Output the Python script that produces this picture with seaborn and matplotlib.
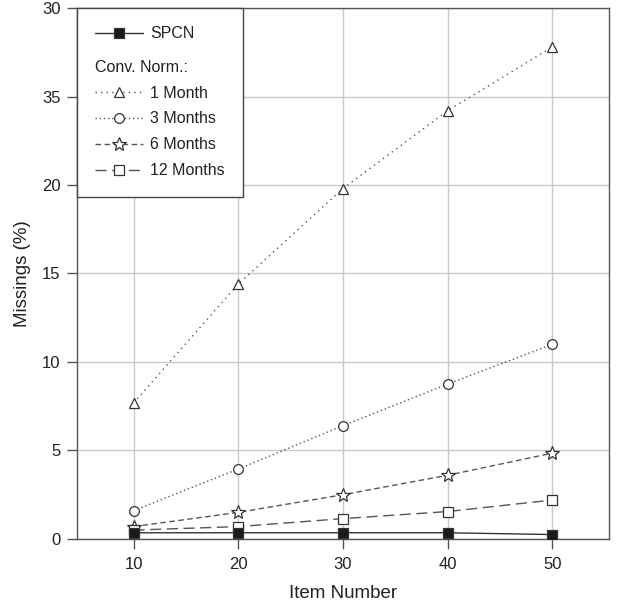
import matplotlib
matplotlib.use("Agg")
import matplotlib.pyplot as plt
from matplotlib.lines import Line2D
import seaborn as sns
import pandas as pd

item_number = [10, 20, 30, 40, 50]
spcn = [0.35, 0.35, 0.35, 0.35, 0.25]
month_1 = [7.68, 14.4, 19.8, 24.2, 27.8]
months_3 = [1.6, 3.95, 6.4, 8.75, 11.0]
months_6 = [0.7, 1.5, 2.5, 3.6, 4.85]
months_12 = [0.5, 0.7, 1.15, 1.55, 2.2]
y_ticks = [0, 5, 10, 15, 20, 25, 30]
y_tick_labels = ["0", "5", "10", "15", "20", "35", "30"]
x_ticks = [10, 20, 30, 40, 50]

sns.set_theme(style="white")
plt.rcParams['font.family'] = ['Liberation Sans', 'DejaVu Sans']

fig = plt.figure(figsize=(6.31, 6.02), dpi=100)
ax = fig.add_axes([0.122, 0.1047, 0.843, 0.882])

gray = "#555555"
series = [
    ("1 Month", month_1, "^", (0, (1, 3)), "white", gray, 1.0),
    ("3 Months", months_3, "o", (0, (1, 2)), "white", gray, 1.0),
    ("6 Months", months_6, "*", (0, (4, 2.5)), "white", gray, 1.0),
    ("12 Months", months_12, "s", (0, (8, 4)), "white", gray, 1.0),
    ("SPCN", spcn, "s", "-", "#1a1a1a", "#333333", 1.0),
]
msizes = {"^": 7, "o": 7, "*": 10, "s": 7}
handles = {}
for name, vals, mk, ls, mfc, col, lw in series:
    df = pd.DataFrame({"x": item_number, "y": vals})
    ms = msizes[mk]
    sns.lineplot(data=df, x="x", y="y", ax=ax, color=col, linestyle=ls, lw=lw,
                 marker=mk, markersize=ms, markerfacecolor=mfc,
                 markeredgecolor="#333333", markeredgewidth=0.9, zorder=3)
    handles[name] = Line2D([], [], color=col, linestyle=ls, lw=lw, marker=mk,
                           markersize=ms, markerfacecolor=mfc,
                           markeredgecolor="#333333", markeredgewidth=0.9)

ax.set_xlim(4.6, 55.4)
ax.set_ylim(0, 30)
ax.set_xticks(x_ticks)
ax.set_xticklabels([str(v) for v in x_ticks])
ax.set_yticks(y_ticks)
ax.set_yticklabels(y_tick_labels)
ax.grid(True, color="#c8c8c8", lw=1.0, zorder=0)
ax.set_axisbelow(True)
for s in ax.spines.values():
    s.set_color("#555555")
    s.set_linewidth(1.0)
ax.tick_params(axis="both", direction="out", length=7, width=1, color="#555555",
               labelsize=12, labelcolor="#222222", bottom=True, left=True, pad=5)
ax.tick_params(axis="x", pad=6)
ax.set_xlabel("Item Number", fontsize=13.5, color="#222222", labelpad=9)
ax.set_ylabel("Missings (%)", fontsize=13.5, color="#222222", labelpad=8)

blank = Line2D([], [], color="none")
leg_handles = [handles["SPCN"], blank, handles["1 Month"], handles["3 Months"],
               handles["6 Months"], handles["12 Months"]]
leg_labels = ["SPCN", "Conv. Norm.:", "1 Month", "3 Months", "6 Months", "12 Months"]
leg = ax.legend(leg_handles, leg_labels, loc="upper left", bbox_to_anchor=(0, 1),
                borderaxespad=0, fontsize=11.5, handlelength=3.0, handletextpad=0.45,
                labelspacing=0.68, frameon=True, fancybox=False, borderpad=1.15,
                labelcolor="#222222")
leg.get_frame().set_edgecolor("#444444")
leg.get_frame().set_linewidth(1.0)
leg.get_frame().set_alpha(1)
# make the "Conv. Norm.:" row start at the handle position, with extra space above
try:
    col_box = leg._legend_handle_box.get_children()[0]
    row = col_box.get_children()[1]
    row.sep = 0
    da = row.get_children()[0]
    da.width = 0
    da.height = da.height + 6
except Exception:
    pass

fig.savefig("out.png", dpi=100)
